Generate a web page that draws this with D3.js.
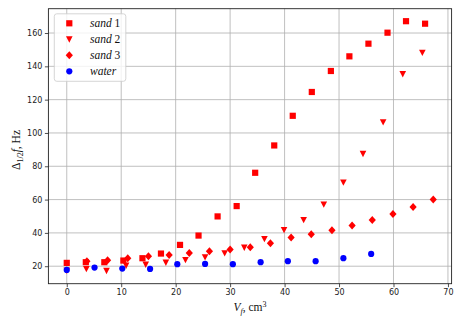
<!DOCTYPE html>
<html>
<head>
<meta charset="utf-8">
<script src="https://cdn.jsdelivr.net/npm/d3@7"></script>
<style>
  body { margin: 0; background: #fff; }
  svg { display: block; }
  .tick text { font-family: "DejaVu Sans", sans-serif; font-size: 8px; fill: #222; }
  .math { font-family: "Liberation Serif", "DejaVu Serif", serif; fill: #111; }
</style>
</head>
<body>
<div id="chart"></div>
<script>
// values
var sand1X = [0, 3.5, 6.9, 10.4, 13.9, 17.3, 20.8, 24.2, 27.7, 31.2, 34.6, 38.1, 41.5, 45.0, 48.5, 51.9, 55.4, 58.9, 62.3, 65.8];
var sand1Y = [22.0, 22.4, 22.4, 23.4, 24.8, 27.6, 32.8, 38.4, 49.9, 56.1, 76.1, 92.5, 110.3, 124.6, 137.2, 146.0, 153.6, 160.2, 167.1, 165.6];

var sand2X = [0, 3.6, 7.3, 10.9, 14.5, 18.2, 21.8, 25.4, 29.0, 32.6, 36.3, 39.9, 43.5, 47.2, 50.8, 54.4, 58.1, 61.7, 65.3];
var sand2Y = [17.4, 18.4, 17.2, 20.4, 21.0, 22.2, 23.8, 25.4, 27.8, 31.2, 36.4, 41.8, 47.8, 57.1, 70.3, 87.5, 106.5, 135.4, 148.2];

var sand3X = [3.7, 7.5, 11.2, 15.0, 18.8, 22.5, 26.2, 30.0, 33.7, 37.4, 41.2, 44.9, 48.7, 52.4, 56.1, 59.9, 63.6, 67.3];
var sand3Y = [23.0, 23.6, 24.8, 26.0, 26.8, 28.0, 29.0, 30.0, 31.4, 33.8, 37.2, 39.2, 41.6, 44.5, 47.8, 51.4, 55.6, 60.1];

var waterX = [0, 5.1, 10.2, 15.3, 20.3, 25.4, 30.5, 35.6, 40.6, 45.7, 50.8, 55.9];
var waterY = [17.8, 19.2, 18.6, 18.4, 21.2, 21.4, 21.2, 22.4, 23.0, 23.0, 24.8, 27.4];

var seriesNames = ["sand", "sand", "sand", "water"];
var seriesNums = [" 1", " 2", " 3", ""];
var xTicks = [0, 10, 20, 30, 40, 50, 60, 70];
var yTicks = [20, 40, 60, 80, 100, 120, 140, 160];

var W = 463, H = 327;
var plotL = 48.4, plotR = 451.6, plotT = 8.7, plotB = 283.7;

var svg = d3.select("#chart").append("svg")
  .attr("width", W).attr("height", H);

var x = d3.scaleLinear().domain([-3.37, 70.67]).range([plotL, plotR]);
var y = d3.scaleLinear().domain([9.5, 174.6]).range([plotB, plotT]);

// grid
svg.append("g").selectAll("line").data(xTicks).join("line")
  .attr("x1", d => x(d)).attr("x2", d => x(d))
  .attr("y1", plotT).attr("y2", plotB)
  .attr("stroke", "#b0b0b0").attr("stroke-width", 0.8);
svg.append("g").selectAll("line").data(yTicks).join("line")
  .attr("x1", plotL).attr("x2", plotR)
  .attr("y1", d => y(d)).attr("y2", d => y(d))
  .attr("stroke", "#b0b0b0").attr("stroke-width", 0.8);

// axes
var xAxis = svg.append("g")
  .attr("transform", "translate(0," + plotB + ")")
  .call(d3.axisBottom(x).tickValues(xTicks).tickSize(3.5).tickPadding(2.5));
var yAxis = svg.append("g")
  .attr("transform", "translate(" + plotL + ",0)")
  .call(d3.axisLeft(y).tickValues(yTicks).tickSize(3.5).tickPadding(2.5));
xAxis.select(".domain").remove();
yAxis.select(".domain").remove();
svg.selectAll(".tick line").attr("stroke", "#222").attr("stroke-width", 0.8);

// frame
svg.append("rect")
  .attr("x", plotL).attr("y", plotT)
  .attr("width", plotR - plotL).attr("height", plotB - plotT)
  .attr("fill", "none").attr("stroke", "#222").attr("stroke-width", 0.9);

// markers
var sz = 6.2;
var sym = {
  square: d3.symbol().type(d3.symbolSquare).size(sz * sz)(),
  circle: d3.symbol().type(d3.symbolCircle).size(Math.PI * sz * sz / 4)(),
  diamond: "M0,-4L3.6,0L0,4L-3.6,0Z",
  tri: "M-3.3,-3L3.3,-3L0,3.4Z"
};

function plot(xs, ys, path, color) {
  svg.append("g").selectAll("path").data(xs).join("path")
    .attr("d", path)
    .attr("transform", (d, i) => "translate(" + x(d) + "," + y(ys[i]) + ")")
    .attr("fill", color);
}
plot(sand1X, sand1Y, sym.square, "#ff0000");
plot(sand2X, sand2Y, sym.tri, "#ff0000");
plot(sand3X, sand3Y, sym.diamond, "#ff0000");
plot(waterX, waterY, sym.circle, "#0000ff");

// legend
var leg = svg.append("g");
leg.append("rect")
  .attr("x", 54.3).attr("y", 13.8).attr("width", 71.5).attr("height", 67.5)
  .attr("rx", 2.5)
  .attr("fill", "#fff").attr("fill-opacity", 0.8)
  .attr("stroke", "#cccccc").attr("stroke-width", 0.8);
var legPaths = [sym.square, sym.tri, sym.diamond, sym.circle];
var legColors = ["#ff0000", "#ff0000", "#ff0000", "#0000ff"];
seriesNames.forEach(function(name, i) {
  var cy = 23.3 + i * 16;
  leg.append("path").attr("d", legPaths[i])
    .attr("transform", "translate(69.3," + cy + ")")
    .attr("fill", legColors[i]);
  var t = leg.append("text").attr("class", "math")
    .attr("x", 90).attr("y", cy + 4).attr("font-size", 11.5);
  t.append("tspan").attr("font-style", "italic").text(name);
  if (seriesNums[i]) t.append("tspan").text(seriesNums[i]);
});

// axis labels
var xl = svg.append("text").attr("class", "math")
  .attr("x", (plotL + plotR) / 2).attr("y", 311)
  .attr("text-anchor", "middle").attr("font-size", 11.5);
xl.append("tspan").attr("font-style", "italic").text("V");
xl.append("tspan").attr("font-style", "italic").attr("font-size", 8).attr("dy", 2.5).text("f");
xl.append("tspan").attr("dy", -2.5).text(", cm");
xl.append("tspan").attr("font-size", 8).attr("dy", -4.5).text("3");

var yl = svg.append("text").attr("class", "math")
  .attr("transform", "translate(20,150) rotate(-90)")
  .attr("text-anchor", "middle").attr("font-size", 11.5);
yl.append("tspan").text("Δ");
yl.append("tspan").attr("font-size", 8).attr("dy", 2.5).text("1/2");
yl.append("tspan").attr("font-style", "italic").attr("dy", -2.5).text("f");
yl.append("tspan").text(", Hz");
</script>
</body>
</html>
